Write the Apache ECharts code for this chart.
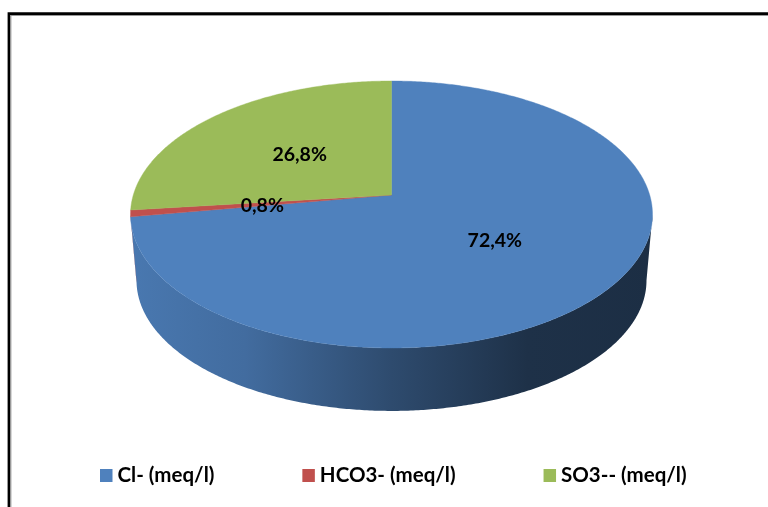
<!DOCTYPE html>
<html>
<head>
<meta charset="utf-8">
<style>html,body{margin:0;padding:0;background:#fff}#c{width:768px;height:507px}</style>
<script src="https://cdn.jsdelivr.net/npm/echarts@6/dist/echarts.min.js"></script>
</head>
<body>
<div id="c"></div>
<script>
const categories = ['Cl- (meq/l)', 'HCO3- (meq/l)', 'SO3-- (meq/l)'];
const shares = [72.4, 0.8, 26.8];
const colors = ['#4F81BD', '#C0504D', '#9BBB59'];

const chart = echarts.init(document.getElementById('c'), null, {renderer: 'canvas'});

// 3D tilt of the disc: a projective map of the unit circle
const FONT = 'Lato';
const K = 0.146, AX = 258.2, BY = 130.65, CX = 391.5, CY = 195;
const DEPTH_SCALE = 0.977, DEPTH_DX = 0, DEPTH_DY = 66;
const ELLIPSE_CY = 214.5;
function project(deg, r) {
  const t = deg * Math.PI / 180, s = Math.sin(t), c = Math.cos(t), d = 1 + K * r * c;
  return [CX + AX * r * s / d, CY - BY * r * c / d];
}
function lower(p) {
  return [CX + DEPTH_DX + (p[0] - CX) * DEPTH_SCALE,
          ELLIPSE_CY + DEPTH_DY + (p[1] - ELLIPSE_CY) * DEPTH_SCALE];
}
function arc(a, b) {
  const pts = [], n = Math.max(2, Math.ceil(Math.abs(b - a) * 2));
  for (let i = 0; i <= n; i++) pts.push(project(a + (b - a) * i / n, 1));
  return pts;
}
function shade(hex, f) {
  const c = echarts.color.parse(hex);
  return 'rgb(' + Math.round(c[0] * f) + ',' + Math.round(c[1] * f) + ',' + Math.round(c[2] * f) + ')';
}
function wallFill(hex) {
  const stops = [[0, .93], [.22, .84], [.5, .58], [.76, .38], [1, .36]];
  return new echarts.graphic.LinearGradient(130, 0, 653, 0,
    stops.map(s => ({offset: s[0], color: shade(hex, s[1])})), true);
}
const VIS_A = 98.4, VIS_B = 261.6;

function renderSlice(idx, params, api) {
  const share = api.value(0), before = api.value(1);
  const a = before * 3.6, b = (before + share) * 3.6;
  const color = colors[idx];
  const children = [];
  const wa = Math.max(a, VIS_A), wb = Math.min(b, VIS_B);
  if (wb > wa) {
    const rim = arc(wa, wb);
    const wall = rim.concat(rim.map(lower).reverse());
    const fill = wallFill(color);
    children.push({type: 'polygon', z2: 1, shape: {points: wall},
      style: {fill: fill, stroke: null}});
  }
  const top = [project(a, 0)].concat(arc(a, b));
  children.push({type: 'polygon', z2: 10, shape: {points: top},
    style: {fill: color, stroke: color, lineWidth: 0.4}});
  const lp = project((a + b) / 2, 0.5);
  children.push({type: 'text', z2: 100, style: {
    x: lp[0], y: lp[1] + 1.5, text: share.toFixed(1).replace('.', ',') + '%',
    fill: '#000', font: 'bold 19.5px ' + FONT, align: 'center', verticalAlign: 'middle'}});
  return {type: 'group', children: children};
}

let running = 0;
const series = categories.map((name, i) => {
  const item = [shares[i], running];
  running += shares[i];
  return {
    type: 'custom', name: name, coordinateSystem: 'none', silent: true,
    animation: false, clip: false,
    itemStyle: {color: colors[i]},
    data: [item],
    renderItem: (p, api) => renderSlice(i, p, api)
  };
});

chart.setOption({
  animation: false,
  backgroundColor: '#fff',
  color: colors,
  legend: {
    data: categories, left: 100, top: 465, padding: 0, icon: 'rect', orient: 'horizontal',
    itemWidth: 12.5, itemHeight: 13, itemGap: 88, selectedMode: false,
    textStyle: {fontFamily: FONT, fontWeight: 'bold', fontSize: 20.5, color: '#000'}
  },
  graphic: [
    {type: 'rect', silent: true, shape: {x: 9, y: 13.7, width: 900, height: 700},
     style: {fill: null, stroke: '#000', lineWidth: 2.8}},
    {type: 'rect', silent: true, shape: {x: 10.9, y: 15.5, width: 900, height: 700},
     style: {fill: null, stroke: '#999', lineWidth: 1}}
  ],
  series: series
});
</script>
</body>
</html>
